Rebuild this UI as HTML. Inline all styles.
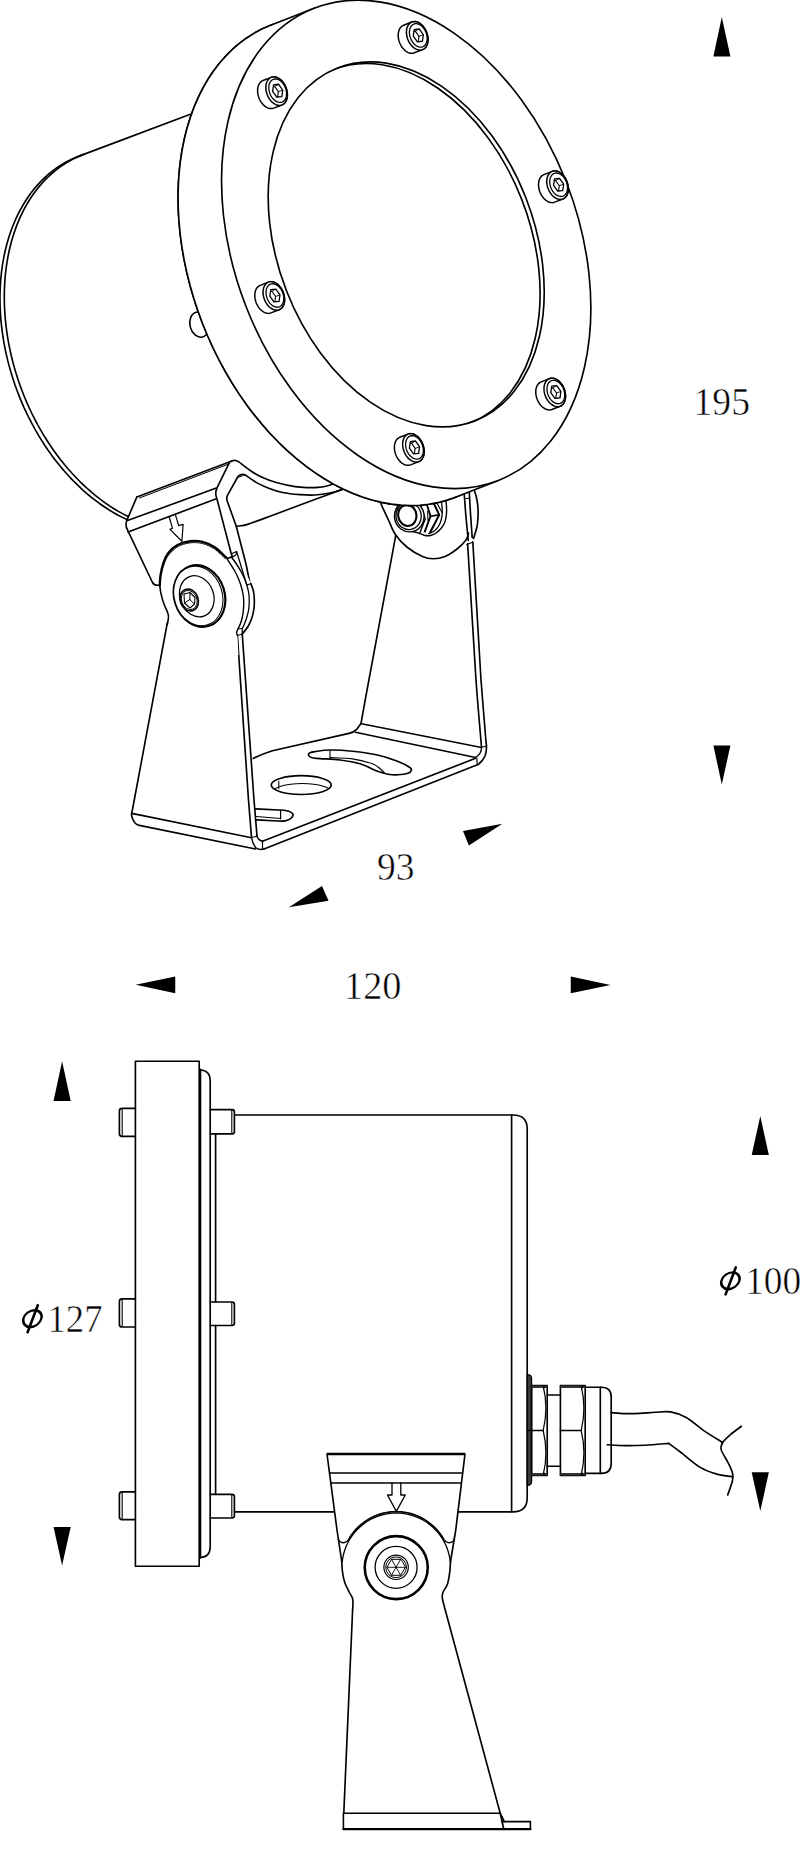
<!DOCTYPE html>
<html><head><meta charset="utf-8"><style>
html,body{margin:0;padding:0;background:#fff;}
svg{display:block;}
text{font-family:"Liberation Serif",serif;fill:#000;}
</style></head><body>
<svg width="800" height="1854" viewBox="0 0 800 1854">
<rect width="800" height="1854" fill="#fff"/>
<g fill="none" stroke="#000" stroke-width="1.65" stroke-linecap="round" stroke-linejoin="round">
<path d="M205.00,108.80 L79.73,155.87 L75.63,157.46 L71.60,159.24 L67.65,161.20 L63.78,163.33 L59.99,165.65 L56.28,168.14 L52.67,170.80 L49.15,173.64 L45.73,176.64 L42.41,179.80 L39.20,183.13 L36.09,186.61 L33.10,190.25 L30.21,194.04 L27.45,197.98 L24.80,202.06 L22.28,206.28 L19.88,210.63 L17.61,215.11 L15.46,219.72 L13.45,224.45 L11.57,229.30 L9.83,234.26 L8.23,239.32 L6.76,244.49 L5.43,249.75 L4.25,255.11 L3.21,260.55 L2.31,266.07 L1.55,271.66 L0.95,277.33 L0.48,283.05 L0.17,288.84 L-0.00,294.68 L-0.02,300.56 L0.10,306.49 L0.37,312.44 L0.79,318.43 L1.36,324.44 L2.07,330.47 L2.92,336.50 L3.92,342.54 L5.06,348.58 L6.35,354.62 L7.77,360.63 L9.34,366.63 L11.04,372.60 L12.88,378.54 L14.85,384.45 L16.95,390.31 L19.19,396.11 L21.55,401.87 L24.03,407.56 L26.64,413.19 L29.37,418.74 L32.22,424.22 L35.18,429.61 L38.26,434.92 L41.44,440.13 L44.73,445.24 L48.12,450.24 L51.61,455.14 L55.20,459.92 L58.87,464.58 L62.64,469.12 L66.49,473.53 L70.42,477.81 L74.42,481.95 L78.50,485.95 L82.65,489.81 L86.86,493.51 L91.13,497.07 L95.46,500.46 L99.83,503.70 L104.26,506.78 L108.73,509.68 L113.23,512.42 L117.77,514.99 L122.34,517.38 L126.94,519.60"/>
<path d="M84.06,154.30 L80.00,155.88 L76.01,157.63 L72.10,159.56 L68.26,161.67 L64.51,163.96 L60.84,166.41 L57.25,169.04 L53.77,171.83 L50.37,174.78 L47.08,177.90 L43.88,181.17 L40.80,184.60 L37.82,188.19 L34.95,191.92 L32.19,195.79 L29.56,199.80 L27.04,203.96 L24.64,208.24 L22.37,212.65 L20.22,217.19 L18.20,221.84 L16.31,226.62 L14.56,231.50 L12.94,236.48 L11.45,241.57 L10.10,246.76 L8.89,252.03 L7.82,257.39 L6.89,262.83 L6.10,268.35 L5.45,273.93 L4.94,279.58 L4.58,285.29 L4.37,291.05 L4.29,296.86 L4.36,302.71 L4.58,308.59 L4.93,314.51 L5.44,320.44 L6.08,326.40 L6.87,332.37 L7.79,338.35 L8.86,344.33 L10.07,350.30 L11.42,356.26 L12.90,362.21 L14.52,368.13 L16.27,374.03 L18.16,379.89 L20.17,385.71 L22.32,391.49 L24.59,397.21 L26.98,402.88 L29.50,408.48 L32.13,414.02 L34.88,419.49 L37.75,424.87 L40.73,430.17 L43.81,435.39 L47.00,440.51 L50.29,445.53 L53.69,450.44 L57.17,455.25 L60.75,459.94 L64.42,464.52 L68.17,468.97 L72.01,473.29 L75.92,477.49 L79.90,481.54 L83.96,485.46 L88.08,489.24 L92.27,492.87 L96.51,496.34 L100.80,499.67 L105.15,502.84 L109.54,505.84 L113.97,508.69 L118.43,511.36 L122.93,513.87 L127.46,516.21"/>
<ellipse cx="199.3" cy="324.6" rx="9.3" ry="12.8" transform="rotate(-14 199.3 324.6)" fill="#fff" stroke-width="1.6"/>
<path d="M473.50,488.00 C474.02,489.67 475.83,494.33 476.60,498.00 C477.37,501.67 477.98,505.50 478.10,510.00 C478.22,514.50 478.07,520.25 477.30,525.00 C476.53,529.75 474.13,536.25 473.50,538.50 L467,545 L462,490Z" fill="#fff" stroke="none"/>
<path d="M378.00,495.00 C378.58,496.67 379.83,501.00 381.50,505.00 C383.17,509.00 385.67,514.04 388.00,519.00 C390.33,523.96 392.25,530.00 395.50,534.75 C398.75,539.50 403.00,543.88 407.50,547.50 C412.00,551.12 418.25,554.62 422.50,556.50 C426.75,558.38 429.25,558.75 433.00,558.75 C436.75,558.75 441.00,558.12 445.00,556.50 C449.00,554.88 453.50,551.75 457.00,549.00 C460.50,546.25 464.08,542.67 466.00,540.00 C467.92,537.33 468.08,534.17 468.50,533.00 L463.5,480 L378,480Z" fill="#fff" stroke="none"/>
<path d="M378.00,495.00 C378.58,496.67 379.83,501.00 381.50,505.00 C383.17,509.00 385.67,514.04 388.00,519.00 C390.33,523.96 392.25,530.00 395.50,534.75 C398.75,539.50 403.00,543.88 407.50,547.50 C412.00,551.12 418.25,554.62 422.50,556.50 C426.75,558.38 429.25,558.75 433.00,558.75 C436.75,558.75 441.00,558.12 445.00,556.50 C449.00,554.88 453.50,551.75 457.00,549.00 C460.50,546.25 464.08,542.67 466.00,540.00 C467.92,537.33 468.08,534.17 468.50,533.00" />
<path d="M473.50,488.00 C474.02,489.67 475.83,494.33 476.60,498.00 C477.37,501.67 477.98,505.50 478.10,510.00 C478.22,514.50 478.07,520.25 477.30,525.00 C476.53,529.75 474.13,536.25 473.50,538.50" />
<path d="M463.75,488.00 L465.80,515.00 L468.25,540.50" />
<path d="M469.00,488.00 L470.60,515.00 L472.20,537.50" />
<path d="M465.25,498.75 L469.20,498.00" stroke-width="1.1"/>
<path d="M466.75,544.50 L472.80,542.20" stroke-width="1.1"/>
<path d="M467.60,543.80 L476.00,680.00 L477.50,700.00 L481.50,747.30" />
<path d="M472.8,541.8 L481,680 L482.6,700 L486,742 Q487.4,749 485,756 Q482.5,761.5 478,764.5" />
<path d="M395.80,535.20 L365.20,700.00 L361.00,723.50" />
<path d="M445.80,498.00 C445.93,499.83 446.53,505.97 446.60,509.00 C446.67,512.03 446.55,513.87 446.20,516.20 C445.85,518.53 445.37,520.95 444.50,523.00 C443.63,525.05 442.42,526.83 441.00,528.50 C439.58,530.17 437.75,531.83 436.00,533.00 C434.25,534.17 432.50,535.13 430.50,535.50 C428.50,535.87 426.08,535.65 424.00,535.20 C421.92,534.75 420.17,533.47 418.00,532.80 C415.83,532.13 412.17,531.47 411.00,531.20" stroke-width="1.4"/>
<path d="M441.00,499.00 C441.20,500.67 442.05,506.13 442.20,509.00 C442.35,511.87 442.20,513.95 441.90,516.20 C441.60,518.45 441.13,520.60 440.40,522.50 C439.67,524.40 438.65,526.10 437.50,527.60 C436.35,529.10 434.97,530.48 433.50,531.50 C432.03,532.52 429.50,533.33 428.70,533.70" stroke-width="1.3"/>
<path d="M432.7,501 L439.2,514.9 L430.5,531.8" stroke-width="2.0"/>
<path d="M426.1,502 L430.5,516.2 L424.8,531.6" stroke-width="1.9"/>
<path d="M430.5,516.2 L439.2,514.9" stroke-width="1.6"/>
<path d="M436.4,502 L442,512.5 M435.5,522.5 L429.5,533" stroke-width="1.1"/>
<path d="M420,503 L425.2,518.9 L420,532.4" stroke-width="1.4"/>
<path d="M427.6,511.5 L427.9,520.5" stroke-width="1.0"/>
<ellipse cx="409.3" cy="516.3" rx="14.8" ry="15.6" transform="rotate(-10 409.3 516.3)" fill="#fff" stroke-width="1.4"/>
<ellipse cx="408.6" cy="516" rx="12.6" ry="13.6" transform="rotate(-10 408.6 516)" stroke-width="1.3"/>
<ellipse cx="407.3" cy="515.4" rx="9.1" ry="10.6" transform="rotate(-10 407.3 515.4)" stroke-width="2.1"/>
<path d="M236.30,526.30 C237.08,526.22 239.13,526.12 241.00,525.80 C242.87,525.48 242.67,525.99 247.50,524.40 C252.33,522.81 261.25,519.48 270.00,516.25 C278.75,513.02 287.83,509.51 300.00,505.00 C312.17,500.49 335.83,491.83 343.00,489.20" />
<path d="M238.75,461.90 C240.83,463.46 247.08,468.55 251.25,471.25 C255.42,473.95 259.58,476.23 263.75,478.10 C267.92,479.98 271.04,481.08 276.25,482.50 C281.46,483.92 289.71,485.75 295.00,486.60 C300.29,487.45 304.17,487.47 308.00,487.60 C311.83,487.73 315.00,487.63 318.00,487.40 C321.00,487.17 323.33,486.80 326.00,486.20 C328.67,485.60 332.67,484.20 334.00,483.80" />
<path d="M246.25,475.60 C248.12,476.85 253.54,480.91 257.50,483.10 C261.46,485.29 265.83,487.18 270.00,488.75 C274.17,490.32 277.50,491.52 282.50,492.50 C287.50,493.48 294.58,494.18 300.00,494.60 C305.42,495.02 310.00,495.27 315.00,495.00 C320.00,494.73 325.33,493.97 330.00,493.00 C334.67,492.03 340.83,489.83 343.00,489.20" />
<path d="M136.9,496.9 L231.25,461.25 Q235,459.4 238.75,461.9 L246.25,475.6 L226.9,498.75 L246.25,565 L250,584 L160,586 L152.5,582.5 L127.5,530 Q124.6,524 127.5,518.75Z" fill="#fff" stroke="none"/>
<path d="M136.90,496.90 L231.25,461.25" />
<path d="M139.50,498.00 L229.00,463.90" stroke-width="1.0"/>
<path d="M231.25,461.25 Q235,459.2 238.75,461.9" />
<path d="M136.9,496.9 L127.6,518.6 Q124.4,524.5 127.6,530.2 L152.5,582.5 Q154.5,586 158.9,585" />
<path d="M127.50,520.60 L216.30,488.10" />
<path d="M128.10,531.90 L215.70,499.00" />
<path d="M229.6,462.2 L216.9,488.1 Q214.6,493.5 216.9,498.75 L231.25,553.75 L232.6,557" />
<path d="M246.25,475.6 Q241.9,472.8 238.1,476.25 L227.3,495.6 Q226.2,498.5 227.4,501.5 L236.25,526.25 L246.25,565 L250,584" />
<path d="M237.40,477.80 L245.00,474.60" stroke-width="1.0"/>
<path d="M169.4,517.5 L172.5,528.3 L170,529.4 L181.9,541.25 L183.1,524.4 L178.75,525.6 L175.6,515.4" stroke-width="1.2"/>
<ellipse cx="362.71" cy="261.36" rx="253.40" ry="171.81" transform="rotate(68.7 362.71 261.36)" fill="#fff"/>
<path d="M498.25,480.49 L506.50,476.90 L514.48,472.67 L522.15,467.82 L529.52,462.36 L536.54,456.29 L543.21,449.65 L549.50,442.44 L555.40,434.70 L560.89,426.43 L565.95,417.66 L570.58,408.41 L574.75,398.72 L578.47,388.60 L581.71,378.09 L584.47,367.21 L586.75,356.00 L588.52,344.48 L589.80,332.68 L590.58,320.64 L590.85,308.40 L590.61,295.98 L589.87,283.41 L588.62,270.74 L586.88,258.00 L584.64,245.22 L581.91,232.44 L578.70,219.69 L575.01,207.01 L570.87,194.43 L566.27,181.99 L561.23,169.72 L555.77,157.66 L549.90,145.83 L543.63,134.27 L536.99,123.01 L529.99,112.09 L522.65,101.53 L514.99,91.36 L507.03,81.61 L498.80,72.31 L490.31,63.48 L481.59,55.14 L472.67,47.32 L463.56,40.05 L454.30,33.33 L444.90,27.19 L435.40,21.65 L425.82,16.72 L416.18,12.41 L406.52,8.74 L396.85,5.71 L387.22,3.34 L377.63,1.63 L368.12,0.58 L358.72,0.20 L349.44,0.49 L340.33,1.45 L331.39,3.08 L322.66,5.37 L314.15,8.31 L270.66,25.26 L262.41,28.85 L254.44,33.08 L246.76,37.93 L239.40,43.40 L232.37,49.46 L225.71,56.11 L219.41,63.31 L213.52,71.06 L208.03,79.33 L202.96,88.10 L198.33,97.34 L194.16,107.04 L190.44,117.15 L187.20,127.67 L184.44,138.54 L182.17,149.76 L180.39,161.28 L179.11,173.07 L178.33,185.11 L178.06,197.36 L178.30,209.78 L179.04,222.34 L180.29,235.01 L182.03,247.75 L184.27,260.53 L187.00,273.31 L190.21,286.06 L193.90,298.74 L198.04,311.32 L202.64,323.76 L207.68,336.03 L213.14,348.10 L219.01,359.93 L225.28,371.49 L231.92,382.74 L238.92,393.67 L246.26,404.23 L253.92,414.39 L261.88,424.14 L270.11,433.45 L278.60,442.28 L287.32,450.62 L296.24,458.43 L305.35,465.71 L314.61,472.43 L324.01,478.56 L333.51,484.11 L343.09,489.04 L352.73,493.35 L362.39,497.02 L372.06,500.05 L381.70,502.42 L391.28,504.13 L400.79,505.18 L410.19,505.55 L419.47,505.26 L428.59,504.30 L437.52,502.68 L446.26,500.39 L454.76,497.45Z" fill="#fff" stroke="none"/>
<path d="M270.66,25.26 L262.41,28.85 L254.44,33.08 L246.76,37.93 L239.40,43.40 L232.37,49.46 L225.71,56.11 L219.41,63.31 L213.52,71.06 L208.03,79.33 L202.96,88.10 L198.33,97.34 L194.16,107.04 L190.44,117.15 L187.20,127.67 L184.44,138.54 L182.17,149.76 L180.39,161.28 L179.11,173.07 L178.33,185.11 L178.06,197.36 L178.30,209.78 L179.04,222.34 L180.29,235.01 L182.03,247.75 L184.27,260.53 L187.00,273.31 L190.21,286.06 L193.90,298.74 L198.04,311.32 L202.64,323.76 L207.68,336.03 L213.14,348.10 L219.01,359.93 L225.28,371.49 L231.92,382.74 L238.92,393.67 L246.26,404.23 L253.92,414.39 L261.88,424.14 L270.11,433.45 L278.60,442.28 L287.32,450.62 L296.24,458.43 L305.35,465.71 L314.61,472.43 L324.01,478.56 L333.51,484.11 L343.09,489.04 L352.73,493.35 L362.39,497.02 L372.06,500.05 L381.70,502.42 L391.28,504.13 L400.79,505.18 L410.19,505.55 L419.47,505.26 L428.59,504.30 L437.52,502.68 L446.26,500.39 L454.76,497.45"/>
<path d="M314.15,8.31 L270.66,25.26"/>
<path d="M498.25,480.49 L454.76,497.45"/>
<ellipse cx="406.20" cy="244.40" rx="253.40" ry="171.81" transform="rotate(68.7 406.20 244.40)" fill="#fff"/>
<clipPath id="cin"><ellipse cx="406.20" cy="244.40" rx="189.40" ry="128.41" transform="rotate(68.7 406.20 244.40)" /></clipPath>
<ellipse cx="406.20" cy="244.40" rx="189.40" ry="128.41" transform="rotate(68.7 406.20 244.40)" />
<g clip-path="url(#cin)"><ellipse cx="402.09" cy="246.00" rx="189.40" ry="128.41" transform="rotate(68.7 402.09 246.00)" /></g>
<path d="M560.12,406.24 L560.84,405.91 L561.52,405.50 L562.16,405.00 L562.75,404.43 L563.29,403.79 L563.78,403.08 L564.22,402.30 L564.59,401.46 L564.91,400.56 L565.16,399.62 L565.35,398.63 L565.47,397.60 L565.53,396.54 L565.52,395.46 L565.44,394.36 L565.30,393.24 L565.09,392.12 L564.82,391.00 L564.49,389.89 L564.10,388.80 L563.65,387.73 L563.14,386.69 L562.58,385.68 L561.98,384.72 L561.33,383.80 L560.64,382.94 L559.91,382.13 L559.15,381.39 L558.36,380.72 L557.56,380.12 L556.73,379.59 L555.89,379.15 L555.05,378.78 L554.20,378.51 L553.36,378.31 L552.52,378.21 L551.70,378.19 L550.90,378.26 L550.12,378.41 L549.37,378.66 L541.15,381.86 L540.44,382.19 L539.76,382.60 L539.12,383.09 L538.53,383.66 L537.98,384.31 L537.49,385.02 L537.06,385.80 L536.68,386.64 L536.37,387.53 L536.12,388.48 L535.93,389.47 L535.81,390.49 L535.75,391.55 L535.76,392.64 L535.83,393.74 L535.98,394.86 L536.18,395.98 L536.45,397.09 L536.79,398.20 L537.18,399.30 L537.63,400.37 L538.14,401.41 L538.69,402.41 L539.30,403.38 L539.95,404.29 L540.64,405.16 L541.37,405.96 L542.13,406.70 L542.91,407.38 L543.72,407.98 L544.55,408.50 L545.38,408.95 L546.23,409.31 L547.07,409.59 L547.92,409.78 L548.75,409.89 L549.57,409.91 L550.38,409.84 L551.15,409.68 L551.91,409.44Z" fill="#fff" stroke-width="1.5"/>
<path d="M560.12,406.24 L561.52,405.50 L562.75,404.43 L563.78,403.08 L564.59,401.46 L565.16,399.62 L565.47,397.60 L565.52,395.46 L565.30,393.24 L564.82,391.00 L564.10,388.80 L563.14,386.69 L561.98,384.72 L560.64,382.94 L559.15,381.39 L557.56,380.12 L555.89,379.15 L554.20,378.51 L552.52,378.21 L550.90,378.26 L549.37,378.66 L547.97,379.40 L546.75,380.46 L545.71,381.81 L544.90,383.43 L544.33,385.27 L544.02,387.29 L543.98,389.43 L544.19,391.65 L544.67,393.89 L545.40,396.09 L546.35,398.20 L547.52,400.17 L548.86,401.95 L550.34,403.50 L551.94,404.77 L553.60,405.74 L555.29,406.39 L556.97,406.69 L558.59,406.64 L560.12,406.24Z" fill="#fff" stroke-width="1.5"/>
<path d="M560.27,403.39 L561.43,402.78 L562.44,401.90 L563.29,400.78 L563.96,399.45 L564.43,397.93 L564.68,396.27 L564.72,394.50 L564.54,392.67 L564.15,390.83 L563.55,389.01 L562.76,387.27 L561.80,385.65 L560.70,384.18 L559.47,382.91 L558.16,381.86 L556.79,381.06 L555.39,380.53 L554.01,380.28 L552.67,380.32 L551.41,380.65 L550.26,381.26 L549.25,382.14 L548.40,383.26 L547.73,384.59 L547.26,386.11 L547.00,387.77 L546.96,389.54 L547.14,391.36 L547.54,393.21 L548.14,395.02 L548.92,396.76 L549.88,398.39 L550.99,399.86 L552.21,401.13 L553.53,402.18 L554.90,402.98 L556.29,403.51 L557.68,403.76 L559.01,403.72 L560.27,403.39Z" stroke-width="1.3"/>
<path d="M559.97,397.87 L560.91,391.42 L556.79,385.57 L551.72,386.16 L550.77,392.62 L554.90,398.47Z" stroke-width="1.3"/>
<clipPath id="hx0"><path d="M559.97,397.87 L560.91,391.42 L556.79,385.57 L551.72,386.16 L550.77,392.62 L554.90,398.47Z"/></clipPath>
<g clip-path="url(#hx0)"><path d="M555.69,398.74 L556.53,392.98 L552.85,387.76 L548.33,388.29 L547.49,394.05 L551.16,399.27Z" stroke-width="1.1"/>
<path d="M559.97,397.87 L555.69,398.74" stroke-width="0.9"/>
<path d="M560.91,391.42 L556.53,392.98" stroke-width="0.9"/>
<path d="M556.79,385.57 L552.85,387.76" stroke-width="0.9"/>
<path d="M551.72,386.16 L548.33,388.29" stroke-width="0.9"/>
<path d="M550.77,392.62 L547.49,394.05" stroke-width="0.9"/>
<path d="M554.90,398.47 L551.16,399.27" stroke-width="0.9"/>
</g>
<path d="M562.90,198.96 L563.62,198.63 L564.30,198.22 L564.94,197.73 L565.53,197.16 L566.07,196.51 L566.56,195.80 L567.00,195.02 L567.37,194.18 L567.69,193.29 L567.94,192.34 L568.13,191.35 L568.25,190.33 L568.31,189.27 L568.30,188.18 L568.22,187.08 L568.08,185.96 L567.87,184.84 L567.60,183.73 L567.27,182.62 L566.88,181.52 L566.42,180.45 L565.92,179.41 L565.36,178.41 L564.76,177.44 L564.11,176.53 L563.42,175.66 L562.69,174.86 L561.93,174.12 L561.14,173.44 L560.34,172.84 L559.51,172.32 L558.67,171.87 L557.83,171.51 L556.98,171.23 L556.14,171.04 L555.30,170.93 L554.48,170.91 L553.68,170.98 L552.90,171.14 L552.15,171.38 L543.93,174.59 L543.22,174.91 L542.54,175.33 L541.90,175.82 L541.31,176.39 L540.76,177.03 L540.27,177.74 L539.84,178.52 L539.46,179.36 L539.15,180.26 L538.90,181.20 L538.71,182.19 L538.58,183.22 L538.53,184.28 L538.54,185.36 L538.61,186.46 L538.76,187.58 L538.96,188.70 L539.23,189.82 L539.57,190.93 L539.96,192.02 L540.41,193.09 L540.92,194.13 L541.47,195.14 L542.08,196.10 L542.73,197.02 L543.42,197.88 L544.15,198.69 L544.90,199.43 L545.69,200.10 L546.50,200.70 L547.32,201.23 L548.16,201.67 L549.01,202.04 L549.85,202.32 L550.70,202.51 L551.53,202.61 L552.35,202.63 L553.16,202.56 L553.93,202.41 L554.68,202.16Z" fill="#fff" stroke-width="1.5"/>
<path d="M562.90,198.96 L564.30,198.22 L565.53,197.16 L566.56,195.80 L567.37,194.18 L567.94,192.34 L568.25,190.33 L568.30,188.18 L568.08,185.96 L567.60,183.73 L566.88,181.52 L565.92,179.41 L564.76,177.44 L563.42,175.66 L561.93,174.12 L560.34,172.84 L558.67,171.87 L556.98,171.23 L555.30,170.93 L553.68,170.98 L552.15,171.38 L550.75,172.12 L549.52,173.18 L548.49,174.54 L547.68,176.16 L547.11,178.00 L546.80,180.01 L546.76,182.16 L546.97,184.38 L547.45,186.61 L548.18,188.81 L549.13,190.93 L550.30,192.90 L551.64,194.68 L553.12,196.22 L554.72,197.50 L556.38,198.47 L558.07,199.11 L559.75,199.41 L561.37,199.36 L562.90,198.96Z" fill="#fff" stroke-width="1.5"/>
<path d="M563.05,196.11 L564.20,195.50 L565.22,194.62 L566.07,193.51 L566.74,192.17 L567.21,190.66 L567.46,188.99 L567.50,187.23 L567.32,185.40 L566.93,183.55 L566.33,181.74 L565.54,180.00 L564.58,178.37 L563.48,176.91 L562.25,175.63 L560.94,174.58 L559.57,173.78 L558.17,173.25 L556.79,173.00 L555.45,173.05 L554.19,173.38 L553.04,173.99 L552.03,174.86 L551.17,175.98 L550.51,177.31 L550.04,178.83 L549.78,180.49 L549.74,182.26 L549.92,184.09 L550.32,185.93 L550.92,187.75 L551.70,189.49 L552.66,191.11 L553.77,192.58 L554.99,193.85 L556.31,194.90 L557.68,195.70 L559.07,196.23 L560.46,196.48 L561.79,196.44 L563.05,196.11Z" stroke-width="1.3"/>
<path d="M562.75,190.60 L563.69,184.15 L559.57,178.29 L554.50,178.89 L553.55,185.34 L557.68,191.20Z" stroke-width="1.3"/>
<clipPath id="hx1"><path d="M562.75,190.60 L563.69,184.15 L559.57,178.29 L554.50,178.89 L553.55,185.34 L557.68,191.20Z"/></clipPath>
<g clip-path="url(#hx1)"><path d="M558.47,191.46 L559.31,185.71 L555.63,180.48 L551.11,181.02 L550.26,186.77 L553.94,191.99Z" stroke-width="1.1"/>
<path d="M562.75,190.60 L558.47,191.46" stroke-width="0.9"/>
<path d="M563.69,184.15 L559.31,185.71" stroke-width="0.9"/>
<path d="M559.57,178.29 L555.63,180.48" stroke-width="0.9"/>
<path d="M554.50,178.89 L551.11,181.02" stroke-width="0.9"/>
<path d="M553.55,185.34 L550.26,186.77" stroke-width="0.9"/>
<path d="M557.68,191.20 L553.94,191.99" stroke-width="0.9"/>
</g>
<path d="M422.57,49.61 L423.29,49.28 L423.97,48.87 L424.61,48.38 L425.20,47.81 L425.74,47.16 L426.23,46.45 L426.67,45.67 L427.04,44.83 L427.36,43.94 L427.61,42.99 L427.80,42.00 L427.92,40.98 L427.98,39.92 L427.97,38.83 L427.89,37.73 L427.75,36.61 L427.54,35.49 L427.27,34.38 L426.94,33.27 L426.55,32.17 L426.10,31.10 L425.59,30.06 L425.03,29.06 L424.43,28.09 L423.78,27.18 L423.09,26.31 L422.36,25.51 L421.60,24.77 L420.81,24.09 L420.01,23.49 L419.18,22.97 L418.34,22.52 L417.50,22.16 L416.65,21.88 L415.81,21.69 L414.97,21.58 L414.15,21.56 L413.35,21.63 L412.57,21.79 L411.82,22.03 L403.60,25.23 L402.89,25.56 L402.21,25.97 L401.57,26.47 L400.98,27.04 L400.43,27.68 L399.94,28.39 L399.51,29.17 L399.13,30.01 L398.82,30.91 L398.57,31.85 L398.38,32.84 L398.26,33.87 L398.20,34.93 L398.21,36.01 L398.28,37.11 L398.43,38.23 L398.63,39.35 L398.90,40.47 L399.24,41.58 L399.63,42.67 L400.08,43.74 L400.59,44.78 L401.14,45.79 L401.75,46.75 L402.40,47.67 L403.09,48.53 L403.82,49.34 L404.58,50.08 L405.36,50.75 L406.17,51.35 L407.00,51.88 L407.83,52.32 L408.68,52.69 L409.52,52.96 L410.37,53.16 L411.20,53.26 L412.02,53.28 L412.83,53.21 L413.61,53.06 L414.36,52.81Z" fill="#fff" stroke-width="1.5"/>
<path d="M422.57,49.61 L423.97,48.87 L425.20,47.81 L426.23,46.45 L427.04,44.83 L427.61,42.99 L427.92,40.98 L427.97,38.83 L427.75,36.61 L427.27,34.38 L426.55,32.17 L425.59,30.06 L424.43,28.09 L423.09,26.31 L421.60,24.77 L420.01,23.49 L418.34,22.52 L416.65,21.88 L414.97,21.58 L413.35,21.63 L411.82,22.03 L410.42,22.77 L409.20,23.83 L408.16,25.19 L407.35,26.81 L406.79,28.65 L406.47,30.66 L406.43,32.81 L406.64,35.03 L407.12,37.26 L407.85,39.46 L408.80,41.58 L409.97,43.55 L411.31,45.33 L412.79,46.87 L414.39,48.15 L416.05,49.12 L417.74,49.76 L419.42,50.06 L421.04,50.01 L422.57,49.61Z" fill="#fff" stroke-width="1.5"/>
<path d="M422.72,46.76 L423.88,46.15 L424.89,45.27 L425.74,44.16 L426.41,42.82 L426.88,41.31 L427.13,39.64 L427.17,37.88 L426.99,36.05 L426.60,34.20 L426.00,32.39 L425.21,30.65 L424.25,29.02 L423.15,27.55 L421.92,26.28 L420.61,25.23 L419.24,24.43 L417.84,23.90 L416.46,23.65 L415.12,23.70 L413.86,24.03 L412.71,24.64 L411.70,25.51 L410.85,26.63 L410.18,27.96 L409.71,29.48 L409.45,31.14 L409.41,32.91 L409.59,34.74 L409.99,36.58 L410.59,38.40 L411.37,40.14 L412.33,41.76 L413.44,43.23 L414.66,44.50 L415.98,45.55 L417.35,46.35 L418.74,46.88 L420.13,47.13 L421.46,47.09 L422.72,46.76Z" stroke-width="1.3"/>
<path d="M422.42,41.25 L423.36,34.79 L419.24,28.94 L414.17,29.54 L413.22,35.99 L417.35,41.85Z" stroke-width="1.3"/>
<clipPath id="hx2"><path d="M422.42,41.25 L423.36,34.79 L419.24,28.94 L414.17,29.54 L413.22,35.99 L417.35,41.85Z"/></clipPath>
<g clip-path="url(#hx2)"><path d="M418.14,42.11 L418.98,36.35 L415.30,31.13 L410.78,31.67 L409.94,37.42 L413.61,42.64Z" stroke-width="1.1"/>
<path d="M422.42,41.25 L418.14,42.11" stroke-width="0.9"/>
<path d="M423.36,34.79 L418.98,36.35" stroke-width="0.9"/>
<path d="M419.24,28.94 L415.30,31.13" stroke-width="0.9"/>
<path d="M414.17,29.54 L410.78,31.67" stroke-width="0.9"/>
<path d="M413.22,35.99 L409.94,37.42" stroke-width="0.9"/>
<path d="M417.35,41.85 L413.61,42.64" stroke-width="0.9"/>
</g>
<path d="M281.97,104.93 L282.68,104.61 L283.36,104.19 L284.00,103.70 L284.59,103.13 L285.13,102.49 L285.62,101.78 L286.06,101.00 L286.43,100.16 L286.75,99.26 L287.00,98.32 L287.19,97.33 L287.31,96.30 L287.37,95.24 L287.36,94.16 L287.28,93.05 L287.14,91.94 L286.93,90.82 L286.66,89.70 L286.33,88.59 L285.94,87.50 L285.49,86.43 L284.98,85.39 L284.42,84.38 L283.82,83.42 L283.17,82.50 L282.48,81.64 L281.75,80.83 L280.99,80.09 L280.21,79.42 L279.40,78.82 L278.57,78.29 L277.74,77.85 L276.89,77.48 L276.04,77.20 L275.20,77.01 L274.37,76.90 L273.54,76.89 L272.74,76.96 L271.96,77.11 L271.21,77.36 L262.99,80.56 L262.28,80.89 L261.60,81.30 L260.96,81.79 L260.37,82.36 L259.83,83.01 L259.34,83.72 L258.90,84.50 L258.53,85.34 L258.21,86.23 L257.96,87.18 L257.77,88.17 L257.65,89.19 L257.59,90.25 L257.60,91.34 L257.68,92.44 L257.82,93.56 L258.03,94.67 L258.30,95.79 L258.63,96.90 L259.02,97.99 L259.47,99.07 L259.98,100.11 L260.54,101.11 L261.14,102.08 L261.79,102.99 L262.48,103.86 L263.21,104.66 L263.97,105.40 L264.75,106.08 L265.56,106.68 L266.39,107.20 L267.23,107.65 L268.07,108.01 L268.92,108.29 L269.76,108.48 L270.60,108.59 L271.42,108.61 L272.22,108.54 L273.00,108.38 L273.75,108.14Z" fill="#fff" stroke-width="1.5"/>
<path d="M281.97,104.93 L283.36,104.19 L284.59,103.13 L285.62,101.78 L286.43,100.16 L287.00,98.32 L287.31,96.30 L287.36,94.16 L287.14,91.94 L286.66,89.70 L285.94,87.50 L284.98,85.39 L283.82,83.42 L282.48,81.64 L280.99,80.09 L279.40,78.82 L277.74,77.85 L276.04,77.20 L274.37,76.90 L272.74,76.96 L271.21,77.36 L269.82,78.10 L268.59,79.16 L267.55,80.51 L266.74,82.13 L266.18,83.97 L265.87,85.99 L265.82,88.13 L266.04,90.35 L266.51,92.59 L267.24,94.79 L268.20,96.90 L269.36,98.87 L270.70,100.65 L272.19,102.20 L273.78,103.47 L275.44,104.44 L277.14,105.09 L278.81,105.39 L280.44,105.33 L281.97,104.93Z" fill="#fff" stroke-width="1.5"/>
<path d="M282.12,102.08 L283.27,101.47 L284.28,100.60 L285.13,99.48 L285.80,98.15 L286.27,96.63 L286.52,94.97 L286.56,93.20 L286.38,91.37 L285.99,89.53 L285.39,87.71 L284.60,85.97 L283.64,84.35 L282.54,82.88 L281.31,81.61 L280.00,80.56 L278.63,79.76 L277.24,79.23 L275.85,78.98 L274.51,79.02 L273.25,79.35 L272.10,79.96 L271.09,80.84 L270.24,81.95 L269.57,83.29 L269.10,84.81 L268.85,86.47 L268.81,88.24 L268.99,90.06 L269.38,91.91 L269.98,93.72 L270.77,95.46 L271.73,97.09 L272.83,98.56 L274.06,99.83 L275.37,100.88 L276.74,101.68 L278.13,102.21 L279.52,102.46 L280.86,102.41 L282.12,102.08Z" stroke-width="1.3"/>
<path d="M281.81,96.57 L282.76,90.12 L278.63,84.27 L273.56,84.86 L272.61,91.32 L276.74,97.17Z" stroke-width="1.3"/>
<clipPath id="hx3"><path d="M281.81,96.57 L282.76,90.12 L278.63,84.27 L273.56,84.86 L272.61,91.32 L276.74,97.17Z"/></clipPath>
<g clip-path="url(#hx3)"><path d="M277.53,97.44 L278.37,91.68 L274.69,86.46 L270.17,86.99 L269.33,92.75 L273.01,97.97Z" stroke-width="1.1"/>
<path d="M281.81,96.57 L277.53,97.44" stroke-width="0.9"/>
<path d="M282.76,90.12 L278.37,91.68" stroke-width="0.9"/>
<path d="M278.63,84.27 L274.69,86.46" stroke-width="0.9"/>
<path d="M273.56,84.86 L270.17,86.99" stroke-width="0.9"/>
<path d="M272.61,91.32 L269.33,92.75" stroke-width="0.9"/>
<path d="M276.74,97.17 L273.01,97.97" stroke-width="0.9"/>
</g>
<path d="M279.19,309.71 L279.90,309.38 L280.58,308.97 L281.22,308.48 L281.81,307.91 L282.35,307.27 L282.84,306.55 L283.28,305.77 L283.65,304.93 L283.97,304.04 L284.22,303.09 L284.41,302.11 L284.53,301.08 L284.59,300.02 L284.58,298.93 L284.50,297.83 L284.36,296.72 L284.16,295.60 L283.88,294.48 L283.55,293.37 L283.16,292.28 L282.71,291.21 L282.20,290.16 L281.65,289.16 L281.04,288.19 L280.39,287.28 L279.70,286.41 L278.97,285.61 L278.21,284.87 L277.43,284.19 L276.62,283.59 L275.79,283.07 L274.96,282.62 L274.11,282.26 L273.26,281.98 L272.42,281.79 L271.59,281.68 L270.77,281.66 L269.96,281.73 L269.18,281.89 L268.43,282.13 L260.22,285.34 L259.50,285.67 L258.82,286.08 L258.18,286.57 L257.59,287.14 L257.05,287.78 L256.56,288.49 L256.12,289.27 L255.75,290.11 L255.43,291.01 L255.18,291.95 L254.99,292.94 L254.87,293.97 L254.81,295.03 L254.82,296.11 L254.90,297.22 L255.04,298.33 L255.25,299.45 L255.52,300.57 L255.85,301.68 L256.24,302.77 L256.69,303.84 L257.20,304.88 L257.76,305.89 L258.36,306.85 L259.01,307.77 L259.70,308.63 L260.43,309.44 L261.19,310.18 L261.97,310.85 L262.78,311.45 L263.61,311.98 L264.45,312.42 L265.29,312.79 L266.14,313.07 L266.98,313.26 L267.82,313.37 L268.64,313.38 L269.44,313.32 L270.22,313.16 L270.97,312.91Z" fill="#fff" stroke-width="1.5"/>
<path d="M279.19,309.71 L280.58,308.97 L281.81,307.91 L282.84,306.55 L283.65,304.93 L284.22,303.09 L284.53,301.08 L284.58,298.93 L284.36,296.72 L283.88,294.48 L283.16,292.28 L282.20,290.16 L281.04,288.19 L279.70,286.41 L278.21,284.87 L276.62,283.59 L274.96,282.62 L273.26,281.98 L271.59,281.68 L269.96,281.73 L268.43,282.13 L267.04,282.87 L265.81,283.93 L264.78,285.29 L263.97,286.91 L263.40,288.75 L263.09,290.77 L263.04,292.91 L263.26,295.13 L263.74,297.36 L264.46,299.57 L265.42,301.68 L266.58,303.65 L267.92,305.43 L269.41,306.98 L271.00,308.25 L272.66,309.22 L274.36,309.86 L276.03,310.16 L277.66,310.11 L279.19,309.71Z" fill="#fff" stroke-width="1.5"/>
<path d="M279.34,306.86 L280.49,306.25 L281.50,305.38 L282.35,304.26 L283.02,302.92 L283.49,301.41 L283.75,299.74 L283.78,297.98 L283.60,296.15 L283.21,294.30 L282.61,292.49 L281.82,290.75 L280.87,289.12 L279.76,287.66 L278.54,286.38 L277.22,285.33 L275.85,284.53 L274.46,284.00 L273.07,283.76 L271.73,283.80 L270.47,284.13 L269.32,284.74 L268.31,285.61 L267.46,286.73 L266.79,288.06 L266.32,289.58 L266.07,291.24 L266.03,293.01 L266.21,294.84 L266.60,296.68 L267.20,298.50 L267.99,300.24 L268.95,301.86 L270.05,303.33 L271.28,304.61 L272.59,305.66 L273.96,306.46 L275.36,306.99 L276.74,307.23 L278.08,307.19 L279.34,306.86Z" stroke-width="1.3"/>
<path d="M279.03,301.35 L279.98,294.90 L275.85,289.04 L270.78,289.64 L269.84,296.09 L273.96,301.95Z" stroke-width="1.3"/>
<clipPath id="hx4"><path d="M279.03,301.35 L279.98,294.90 L275.85,289.04 L270.78,289.64 L269.84,296.09 L273.96,301.95Z"/></clipPath>
<g clip-path="url(#hx4)"><path d="M274.75,302.21 L275.59,296.46 L271.91,291.23 L267.39,291.77 L266.55,297.52 L270.23,302.75Z" stroke-width="1.1"/>
<path d="M279.03,301.35 L274.75,302.21" stroke-width="0.9"/>
<path d="M279.98,294.90 L275.59,296.46" stroke-width="0.9"/>
<path d="M275.85,289.04 L271.91,291.23" stroke-width="0.9"/>
<path d="M270.78,289.64 L267.39,291.77" stroke-width="0.9"/>
<path d="M269.84,296.09 L266.55,297.52" stroke-width="0.9"/>
<path d="M273.96,301.95 L270.23,302.75" stroke-width="0.9"/>
</g>
<path d="M418.77,461.66 L419.48,461.33 L420.16,460.92 L420.80,460.43 L421.39,459.86 L421.93,459.22 L422.42,458.50 L422.86,457.72 L423.23,456.89 L423.55,455.99 L423.80,455.05 L423.99,454.06 L424.11,453.03 L424.17,451.97 L424.16,450.88 L424.08,449.78 L423.94,448.67 L423.73,447.55 L423.46,446.43 L423.13,445.32 L422.74,444.23 L422.29,443.16 L421.78,442.11 L421.22,441.11 L420.62,440.14 L419.97,439.23 L419.28,438.36 L418.55,437.56 L417.79,436.82 L417.01,436.15 L416.20,435.54 L415.37,435.02 L414.53,434.57 L413.69,434.21 L412.84,433.93 L412.00,433.74 L411.17,433.63 L410.34,433.61 L409.54,433.68 L408.76,433.84 L408.01,434.08 L399.79,437.29 L399.08,437.62 L398.40,438.03 L397.76,438.52 L397.17,439.09 L396.63,439.73 L396.14,440.44 L395.70,441.22 L395.33,442.06 L395.01,442.96 L394.76,443.90 L394.57,444.89 L394.45,445.92 L394.39,446.98 L394.40,448.06 L394.48,449.17 L394.62,450.28 L394.83,451.40 L395.10,452.52 L395.43,453.63 L395.82,454.72 L396.27,455.79 L396.78,456.83 L397.34,457.84 L397.94,458.80 L398.59,459.72 L399.28,460.58 L400.01,461.39 L400.77,462.13 L401.55,462.80 L402.36,463.40 L403.19,463.93 L404.03,464.37 L404.87,464.74 L405.72,465.02 L406.56,465.21 L407.39,465.32 L408.22,465.34 L409.02,465.27 L409.80,465.11 L410.55,464.87Z" fill="#fff" stroke-width="1.5"/>
<path d="M418.77,461.66 L420.16,460.92 L421.39,459.86 L422.42,458.50 L423.23,456.89 L423.80,455.05 L424.11,453.03 L424.16,450.88 L423.94,448.67 L423.46,446.43 L422.74,444.23 L421.78,442.11 L420.62,440.14 L419.28,438.36 L417.79,436.82 L416.20,435.54 L414.53,434.57 L412.84,433.93 L411.17,433.63 L409.54,433.68 L408.01,434.08 L406.62,434.82 L405.39,435.88 L404.35,437.24 L403.54,438.86 L402.98,440.70 L402.67,442.72 L402.62,444.86 L402.84,447.08 L403.31,449.32 L404.04,451.52 L405.00,453.63 L406.16,455.60 L407.50,457.38 L408.99,458.93 L410.58,460.20 L412.24,461.17 L413.93,461.81 L415.61,462.11 L417.24,462.06 L418.77,461.66Z" fill="#fff" stroke-width="1.5"/>
<path d="M418.92,458.81 L420.07,458.20 L421.08,457.33 L421.93,456.21 L422.60,454.87 L423.07,453.36 L423.32,451.70 L423.36,449.93 L423.18,448.10 L422.79,446.26 L422.19,444.44 L421.40,442.70 L420.44,441.07 L419.34,439.61 L418.11,438.33 L416.80,437.28 L415.43,436.48 L414.03,435.95 L412.65,435.71 L411.31,435.75 L410.05,436.08 L408.90,436.69 L407.89,437.56 L407.04,438.68 L406.37,440.02 L405.90,441.53 L405.65,443.19 L405.61,444.96 L405.79,446.79 L406.18,448.63 L406.78,450.45 L407.57,452.19 L408.52,453.82 L409.63,455.28 L410.85,456.56 L412.17,457.61 L413.54,458.41 L414.93,458.94 L416.32,459.18 L417.66,459.14 L418.92,458.81Z" stroke-width="1.3"/>
<path d="M418.61,453.30 L419.56,446.85 L415.43,440.99 L410.36,441.59 L409.41,448.04 L413.54,453.90Z" stroke-width="1.3"/>
<clipPath id="hx5"><path d="M418.61,453.30 L419.56,446.85 L415.43,440.99 L410.36,441.59 L409.41,448.04 L413.54,453.90Z"/></clipPath>
<g clip-path="url(#hx5)"><path d="M414.33,454.16 L415.17,448.41 L411.49,443.18 L406.97,443.72 L406.13,449.47 L409.81,454.70Z" stroke-width="1.1"/>
<path d="M418.61,453.30 L414.33,454.16" stroke-width="0.9"/>
<path d="M419.56,446.85 L415.17,448.41" stroke-width="0.9"/>
<path d="M415.43,440.99 L411.49,443.18" stroke-width="0.9"/>
<path d="M410.36,441.59 L406.97,443.72" stroke-width="0.9"/>
<path d="M409.41,448.04 L406.13,449.47" stroke-width="0.9"/>
<path d="M413.54,453.90 L409.81,454.70" stroke-width="0.9"/>
</g>
<path d="M252.4,759 L272.5,750.8 L349,733.4 Q354,732 356.5,729.5 L361,723.5 L481.5,747.5 L478,764.5 L262.75,849 L252.5,837.5Z" fill="#fff" stroke="none"/>
<path d="M251.6,759.2 Q262,754 272.5,750.8 L349,733.4 Q354,732.2 356.6,729.4 L361,723.5" />
<path d="M361.50,723.80 L481.50,747.50" />
<path d="M481.50,747.50 L486.00,746.00" stroke-width="1.2"/>
<path d="M481.5,747.5 Q481.5,754 475.5,757.5" stroke-width="1.3"/>
<path d="M476.80,758.00 L477.20,764.50" stroke-width="1.2"/>
<path d="M355.40,732.20 L475.50,757.50" />
<path d="M262.50,841.20 L475.00,758.50" />
<path d="M264.00,849.00 L478.00,764.50" />
<clipPath id="ch"><ellipse cx="301.25" cy="785.1" rx="30" ry="9.4"/></clipPath>
<ellipse cx="301.25" cy="785.1" rx="30" ry="9.4"/>
<g clip-path="url(#ch)"><ellipse cx="302.2" cy="792.9" rx="30" ry="9.4" stroke-width="1.2"/></g>
<path d="M278.80,781.40 L278.80,788.60" stroke-width="1.1"/>
<clipPath id="cs"><path d="M308.50,755.20 C308.17,754.37 308.92,753.40 310.00,752.80 C311.08,752.20 311.67,752.07 315.00,751.60 C318.33,751.13 323.75,750.07 330.00,750.00 C336.25,749.93 344.58,750.37 352.50,751.20 C360.42,752.03 370.00,753.33 377.50,755.00 C385.00,756.67 392.17,759.17 397.50,761.20 C402.83,763.23 407.18,765.70 409.50,767.20 C411.82,768.70 411.65,769.20 411.40,770.20 C411.15,771.20 410.23,772.43 408.00,773.20 C405.77,773.97 401.33,774.63 398.00,774.80 C394.67,774.97 391.42,774.80 388.00,774.20 C384.58,773.60 382.17,772.93 377.50,771.20 C372.83,769.47 366.25,765.67 360.00,763.80 C353.75,761.93 346.67,760.87 340.00,760.00 C333.33,759.13 324.67,758.97 320.00,758.60 C315.33,758.23 313.92,758.37 312.00,757.80 C310.08,757.23 308.83,756.03 308.50,755.20Z"/></clipPath>
<path d="M308.50,755.20 C308.17,754.37 308.92,753.40 310.00,752.80 C311.08,752.20 311.67,752.07 315.00,751.60 C318.33,751.13 323.75,750.07 330.00,750.00 C336.25,749.93 344.58,750.37 352.50,751.20 C360.42,752.03 370.00,753.33 377.50,755.00 C385.00,756.67 392.17,759.17 397.50,761.20 C402.83,763.23 407.18,765.70 409.50,767.20 C411.82,768.70 411.65,769.20 411.40,770.20 C411.15,771.20 410.23,772.43 408.00,773.20 C405.77,773.97 401.33,774.63 398.00,774.80 C394.67,774.97 391.42,774.80 388.00,774.20 C384.58,773.60 382.17,772.93 377.50,771.20 C372.83,769.47 366.25,765.67 360.00,763.80 C353.75,761.93 346.67,760.87 340.00,760.00 C333.33,759.13 324.67,758.97 320.00,758.60 C315.33,758.23 313.92,758.37 312.00,757.80 C310.08,757.23 308.83,756.03 308.50,755.20Z" />
<g clip-path="url(#cs)">
<path d="M330.00,757.60 C333.75,757.80 345.42,757.77 352.50,758.80 C359.58,759.83 367.75,762.02 372.50,763.80 C377.25,765.58 378.75,767.63 381.00,769.50 C383.25,771.37 385.17,774.08 386.00,775.00" stroke-width="1.2"/>
<path d="M330.00,750.00 L330.00,757.60" stroke-width="1.1"/>
</g>
<path d="M168,616 L132.5,810 Q131,814 132.6,818 Q134,823.5 137.8,825 L257.5,848.75 L262.75,849 L258.75,837.5 L243,633.5 L237,600 L170,590Z" fill="#fff" stroke="none"/>
<path d="M255.6,808.9 L284,810.2 Q292.5,811.5 293.2,814.8 Q292.5,818.6 286,820.6 Q282,821.4 278,821 L256.6,819.9" />
<path d="M256.20,816.50 L280.60,818.50" stroke-width="1.2"/>
<path d="M280.60,810.60 L280.60,818.80" stroke-width="1.2"/>
<path d="M167.3,623 L132.4,810 Q130.6,815 132.6,818.5 Q134.2,823.6 138.2,825.1 L255.5,849" />
<path d="M131.80,813.40 L251.50,837.80" />
<path d="M237.40,635.50 L248.50,800.00 L251.50,837.50" />
<path d="M242.25,634.00 L254.00,800.00 L257.00,836.00" />
<path d="M251.5,837.5 Q252.2,842.5 255.5,847.5 Q258.5,850.4 264,849" stroke-width="1.4"/>
<path d="M257,836 Q258,840.2 262.5,841.2" stroke-width="1.4"/>
<path d="M251.50,837.50 L256.40,836.40" stroke-width="1.1"/>
<path d="M262.50,841.20 L262.50,849.00" stroke-width="1.2"/>
<path d="M250.90,583.75 C251.32,584.96 252.83,588.50 253.40,591.00 C253.97,593.50 254.20,595.92 254.30,598.75 C254.40,601.58 254.38,604.88 254.00,608.00 C253.62,611.12 253.00,614.42 252.00,617.50 C251.00,620.58 249.62,623.75 248.00,626.50 C246.38,629.25 243.21,632.75 242.25,634.00 L237,632 L236.6,551.5Z" fill="#fff" stroke="none"/>
<path d="M250.90,583.75 C251.32,584.96 252.83,588.50 253.40,591.00 C253.97,593.50 254.20,595.92 254.30,598.75 C254.40,601.58 254.38,604.88 254.00,608.00 C253.62,611.12 253.00,614.42 252.00,617.50 C251.00,620.58 249.62,623.75 248.00,626.50 C246.38,629.25 243.21,632.75 242.25,634.00" />
<path d="M236.60,551.50 L246.75,584.90" stroke-width="1.3"/>
<path d="M246.75,584.90 L250.90,583.75" stroke-width="1.2"/>
<path d="M231.75,557.50 C232.62,558.67 235.38,562.00 237.00,564.50 C238.62,567.00 240.17,569.92 241.50,572.50 C242.83,575.08 244.00,577.50 245.00,580.00 C246.00,582.50 246.83,585.00 247.50,587.50 C248.17,590.00 248.72,592.50 249.00,595.00 C249.28,597.50 249.27,600.00 249.20,602.50 C249.13,605.00 249.01,607.50 248.60,610.00 C248.19,612.50 247.42,615.25 246.75,617.50 C246.08,619.75 245.35,621.62 244.60,623.50 C243.85,625.38 242.64,627.88 242.25,628.75 L242.25,634" stroke-width="1.3"/>
<path d="M232.10,558.25 L240.75,571.00" stroke-width="1.0"/>
<path d="M159.75,585.50 C159.89,583.75 159.97,578.75 160.60,575.00 C161.22,571.25 162.27,566.60 163.50,563.00 C164.73,559.40 165.67,556.40 168.00,553.40 C170.33,550.40 173.83,547.03 177.50,545.00 C181.17,542.97 185.83,541.72 190.00,541.20 C194.17,540.68 198.33,540.85 202.50,541.90 C206.67,542.95 211.00,544.83 215.00,547.50 C219.00,550.17 223.21,553.98 226.50,557.90 C229.79,561.82 232.67,567.32 234.75,571.00 C236.83,574.68 237.88,577.25 239.00,580.00 C240.12,582.75 240.80,585.00 241.50,587.50 C242.20,590.00 242.82,592.50 243.20,595.00 C243.57,597.50 243.72,600.00 243.75,602.50 C243.78,605.00 243.65,607.50 243.40,610.00 C243.15,612.50 242.77,615.17 242.25,617.50 C241.73,619.83 241.05,622.00 240.30,624.00 C239.55,626.00 238.37,628.08 237.75,629.50 C237.13,630.92 236.66,631.50 236.60,632.50 C236.54,633.50 237.27,635.00 237.40,635.50 L238.5,655 L163,655 L169.4,618 Q165.5,606 163,597.5 Z" fill="#fff" stroke="none"/>
<path d="M159.75,585.50 C159.89,583.75 159.97,578.75 160.60,575.00 C161.22,571.25 162.27,566.60 163.50,563.00 C164.73,559.40 165.67,556.40 168.00,553.40 C170.33,550.40 173.83,547.03 177.50,545.00 C181.17,542.97 185.83,541.72 190.00,541.20 C194.17,540.68 198.33,540.85 202.50,541.90 C206.67,542.95 211.00,544.83 215.00,547.50 C219.00,550.17 224.58,556.17 226.50,557.90" stroke-width="2.4"/>
<path d="M226.50,557.90 C227.88,560.08 232.67,567.32 234.75,571.00 C236.83,574.68 237.88,577.25 239.00,580.00 C240.12,582.75 240.80,585.00 241.50,587.50 C242.20,590.00 242.82,592.50 243.20,595.00 C243.57,597.50 243.72,600.00 243.75,602.50 C243.78,605.00 243.65,607.50 243.40,610.00 C243.15,612.50 242.77,615.17 242.25,617.50 C241.73,619.83 241.05,622.00 240.30,624.00 C239.55,626.00 238.37,628.08 237.75,629.50 C237.13,630.92 236.66,631.50 236.60,632.50 C236.54,633.50 237.27,635.00 237.40,635.50" stroke-width="1.4"/>
<path d="M161.20,573.00 C161.75,571.25 163.20,565.57 164.50,562.50 C165.80,559.43 166.75,557.25 169.00,554.60 C171.25,551.95 174.50,548.55 178.00,546.60 C181.50,544.65 185.92,543.40 190.00,542.90 C194.08,542.40 198.42,542.58 202.50,543.60 C206.58,544.62 210.75,546.52 214.50,549.00 C218.25,551.48 223.25,556.92 225.00,558.50" stroke-width="0.9"/>
<path d="M159.75,585.5 C160.5,594 163,603 167.2,611.3 Q169.2,615.6 168.3,619.2 L167.3,624.5" stroke-width="1.6"/>
<path d="M231.4,553.75 L236.6,551.5 L235.9,554.9 L231.75,557.3" stroke-width="1.2"/>
<path d="M226.5,557.9 Q229.5,558.6 231.4,556.5" stroke-width="1.6"/>
<path d="M237.40,635.50 L242.25,634.00" stroke-width="1.1"/>
<path d="M238.20,629.00 L242.25,628.50" stroke-width="1.0"/>
<ellipse cx="199.5" cy="596" rx="25.2" ry="31.3" transform="rotate(-18 199.5 596)" fill="#fff" stroke-width="2.2"/>
<ellipse cx="198.3" cy="596" rx="24" ry="30.3" transform="rotate(-18 198.3 596)" fill="#fff" stroke-width="1.1"/>
<ellipse cx="196.8" cy="596.3" rx="16.8" ry="21" transform="rotate(-20 196.8 596.3)" stroke-width="1.3"/>
<ellipse cx="189.2" cy="600" rx="9.0" ry="11.2" transform="rotate(-20 189.2 600)" stroke-width="1.6"/>
<ellipse cx="189.3" cy="600" rx="7.7" ry="9.8" transform="rotate(-20 189.3 600)" stroke-width="0.9"/>
<path d="M184.00,594.00 L190.00,592.50 L195.00,597.50 L194.50,604.00 L190.00,608.00 L184.50,603.00Z" stroke-width="1.1"/>
<path d="M189.80,599.60 L190.00,592.50" stroke-width="1.0"/>
<path d="M189.80,599.60 L194.50,604.00" stroke-width="1.0"/>
<path d="M189.80,599.60 L184.50,603.00" stroke-width="1.0"/>
<path d="M234.4,1115 L513,1115 Q527.2,1115 527.2,1129 L527.2,1497.7 Q527.2,1511.8 513,1511.8 L234.4,1511.8" />
<path d="M511.60,1115.00 L511.60,1511.80" />
<path d="M135.4,1061.2 L199.2,1061.2 L199.2,1566.2 L135.4,1566.2Z" />
<path d="M200.40,1069.50 L200.40,1558.00" stroke-width="1.8"/>
<path d="M200.5,1070 Q210.2,1070.5 210.2,1081 L210.2,1546.5 Q210.2,1557 200.5,1557.5" />
<path d="M215.60,1134.00 L215.60,1302.00" />
<path d="M215.60,1325.50 L215.60,1494.20" />
<path d="M135.4,1108.4 L122,1108.4 Q119.4,1108.4 119.4,1111.0 L119.4,1133.7 Q119.4,1136.3 122,1136.3 L135.4,1136.3" />
<path d="M122.20,1109.40 L122.20,1135.30" stroke-width="1.1"/>
<path d="M210.2,1109.6 L232,1109.6 Q234.4,1109.6 234.4,1112.0 L234.4,1131.3999999999999 Q234.4,1133.8 232,1133.8 L210.2,1133.8" />
<path d="M231.80,1110.60 L231.80,1132.80" stroke-width="1.1"/>
<path d="M135.4,1298.8 L122,1298.8 Q119.4,1298.8 119.4,1301.3999999999999 L119.4,1324.4 Q119.4,1327 122,1327 L135.4,1327" />
<path d="M122.20,1299.80 L122.20,1326.00" stroke-width="1.1"/>
<path d="M210.2,1302 L232,1302 Q234.4,1302 234.4,1304.4 L234.4,1323.1 Q234.4,1325.5 232,1325.5 L210.2,1325.5" />
<path d="M231.80,1303.00 L231.80,1324.50" stroke-width="1.1"/>
<path d="M135.4,1491.8 L122,1491.8 Q119.4,1491.8 119.4,1494.3999999999999 L119.4,1517.0 Q119.4,1519.6 122,1519.6 L135.4,1519.6" />
<path d="M122.20,1492.80 L122.20,1518.60" stroke-width="1.1"/>
<path d="M210.2,1494.3 L232,1494.3 Q234.4,1494.3 234.4,1496.7 L234.4,1515.6 Q234.4,1518 232,1518 L210.2,1518" />
<path d="M231.80,1495.30 L231.80,1517.00" stroke-width="1.1"/>
<path d="M527.2,1374.8 L529.5,1374.8 Q531.6,1375.6 531.6,1378 L531.6,1482 Q531.6,1484.4 529.5,1485.2 L527.2,1485.2Z" fill="#3a3a3a" stroke-width="1.2"/>
<path d="M531.6,1385.6 L547.2,1385.6 L547.2,1475.4 L531.6,1475.4Z" />
<path d="M531.6,1386.8 L547.2,1386.8 M531.6,1474.2 L547.2,1474.2" stroke-width="2.6" stroke="#333" stroke-linecap="butt"/>
<path d="M527.50,1430.50 L543.20,1430.50" />
<path d="M543.2,1386 Q548.6,1408 543.2,1430.5 Q548.6,1453 543.2,1475" stroke-width="1.2"/>
<path d="M545,1386 L543.6,1389 M545,1475 L543.6,1472" stroke-width="1"/>
<path d="M547.20,1395.00 L560.40,1395.00" />
<path d="M547.20,1466.20 L560.40,1466.20" />
<path d="M560.4,1385.6 L585.2,1385.6 L585.2,1475.4 L560.4,1475.4Z" />
<path d="M560.4,1386.8 L585.2,1386.8 M560.4,1474.2 L585.2,1474.2" stroke-width="2.6" stroke="#333" stroke-linecap="butt"/>
<path d="M560.40,1430.50 L581.20,1430.50" />
<path d="M581.2,1386 Q586.6,1408 581.2,1430.5 Q586.6,1453 581.2,1475" stroke-width="1.2"/>
<path d="M583,1386 L581.6,1389 M583,1475 L581.6,1472" stroke-width="1"/>
<path d="M585.2,1387.2 L601.5,1387.2 Q611.2,1387.2 611.2,1397 L611.2,1463.6 Q611.2,1473.4 601.5,1473.4 L585.2,1473.4" />
<path d="M600.30,1387.20 L600.30,1473.40" />
<path d="M611.20,1412.60 C613.50,1412.77 620.20,1413.47 625.00,1413.60 C629.80,1413.73 635.00,1413.62 640.00,1413.40 C645.00,1413.18 649.92,1412.55 655.00,1412.30 C660.08,1412.05 665.29,1411.03 670.50,1411.90 C675.71,1412.77 680.71,1414.38 686.25,1417.50 C691.79,1420.62 697.68,1426.43 703.75,1430.60 C709.82,1434.77 719.50,1440.52 722.65,1442.50" />
<path d="M607.20,1444.80 C610.17,1444.93 618.70,1445.53 625.00,1445.60 C631.30,1445.67 637.71,1445.57 645.00,1445.20 C652.29,1444.83 664.79,1443.70 668.75,1443.40" />
<path d="M668.75,1443.40 C670.79,1444.92 675.75,1448.50 681.00,1452.50 C686.25,1456.50 694.12,1463.75 700.25,1467.40 C706.38,1471.05 712.36,1472.86 717.75,1474.40 C723.14,1475.94 730.12,1476.28 732.60,1476.65" />
<path d="M741.40,1426.25 C739.50,1427.71 733.12,1432.29 730.00,1435.00 C726.88,1437.71 724.11,1440.02 722.65,1442.50 C721.19,1444.98 720.32,1446.48 721.25,1449.90 C722.18,1453.32 726.36,1459.07 728.25,1463.00 C730.14,1466.93 731.91,1470.50 732.60,1473.50 C733.29,1476.50 733.22,1477.42 732.40,1481.00 C731.58,1484.58 728.48,1492.67 727.70,1495.00" />
<path d="M352.6,1610 L343.8,1813.2 L500.2,1813.2 L445.25,1610" />
<path d="M343.4,1813.2 L343.4,1829.2 L530.4,1829.2 L530.4,1821.6 L504.3,1821.6 L500.2,1813.2" stroke-width="1.6"/>
<path d="M343.40,1829.20 L530.40,1829.20" stroke-width="2.2"/>
<path d="M500.20,1813.20 L503.80,1829.20" />
<path d="M502.00,1821.60 L504.30,1821.60" />
<path d="M327,1454 L465,1454 L450.5,1561.5 L445.25,1610 L352.6,1610 L341.75,1561.5Z" fill="#fff" stroke="none"/>
<circle cx="396.25" cy="1566.25" r="54.3" fill="#fff" stroke="none"/>
<path d="M327.00,1454.00 L465.00,1454.00" stroke-width="2.6" stroke-linecap="butt"/>
<path d="M327.00,1454.00 L337.00,1530.00 L341.75,1561.50" />
<path d="M465.00,1454.00 L455.75,1530.00 L450.50,1561.50" />
<path d="M341.75,1561.50 C341.88,1563.25 342.00,1568.50 342.50,1572.00 C343.00,1575.50 343.62,1579.12 344.75,1582.50 C345.88,1585.88 348.00,1589.75 349.25,1592.25 C350.50,1594.75 351.62,1595.88 352.25,1597.50 C352.88,1599.12 352.94,1599.92 353.00,1602.00 C353.06,1604.08 352.67,1608.67 352.60,1610.00" />
<path d="M450.50,1561.50 C450.38,1563.25 450.25,1568.25 449.75,1572.00 C449.25,1575.75 448.62,1580.62 447.50,1584.00 C446.38,1587.38 443.88,1590.00 443.00,1592.25 C442.12,1594.50 442.18,1595.71 442.25,1597.50 C442.32,1599.29 442.90,1600.92 443.40,1603.00 C443.90,1605.08 444.94,1608.83 445.25,1610.00" />
<path d="M329.80,1473.00 L462.20,1473.00" />
<path d="M331.30,1483.00 L460.70,1483.00" />
<path d="M392,1483 L392,1495 L387.5,1495 L396.3,1511.4 L405.3,1495 L400.8,1495 L400.8,1483" stroke-width="1.3"/>
<path d="M349.95,1537.32 L351.47,1535.01 L353.11,1532.79 L354.86,1530.65 L356.71,1528.60 L358.67,1526.64 L360.72,1524.79 L362.86,1523.05 L365.09,1521.42 L367.40,1519.90 L369.78,1518.50 L372.23,1517.22 L374.74,1516.07 L377.31,1515.04 L379.92,1514.15 L382.58,1513.39 L385.27,1512.77 L387.99,1512.28 L390.73,1511.93 L393.49,1511.72 L396.25,1511.65 L399.01,1511.72 L401.77,1511.93 L404.51,1512.28 L407.23,1512.77 L409.92,1513.39 L412.58,1514.15 L415.19,1515.04 L417.76,1516.07 L420.27,1517.22 L422.72,1518.50 L425.10,1519.90 L427.41,1521.42 L429.64,1523.05 L431.78,1524.79 L433.83,1526.64 L435.79,1528.60 L437.64,1530.65 L439.39,1532.79 L441.03,1535.01 L442.55,1537.32" />
<path d="M342.25,1561.62 L342.81,1557.68 L343.66,1553.80 L344.79,1549.98 L346.19,1546.26 L347.87,1542.65 L349.80,1539.17 L351.99,1535.85 L354.41,1532.69 L357.06,1529.72 L359.92,1526.95 L362.97,1524.39 L366.20,1522.07 L369.59,1519.99 L373.13,1518.17 L376.79,1516.61 L380.56,1515.32 L384.40,1514.31 L388.32,1513.58 L392.27,1513.15 L396.25,1513.00 L400.23,1513.15 L404.18,1513.58 L408.10,1514.31 L411.94,1515.32 L415.71,1516.61 L419.37,1518.17 L422.91,1519.99 L426.30,1522.07 L429.53,1524.39 L432.58,1526.95 L435.44,1529.72 L438.09,1532.69 L440.51,1535.85 L442.70,1539.17 L444.63,1542.65 L446.31,1546.26 L447.71,1549.98 L448.84,1553.80 L449.69,1557.68 L450.25,1561.62" stroke-width="1.3"/>
<path d="M338.40,1539.00 C338.58,1539.38 338.69,1540.62 339.50,1541.25 C340.31,1541.88 342.00,1542.75 343.25,1542.75 C344.50,1542.75 345.88,1542.14 347.00,1541.25 C348.12,1540.36 349.50,1538.04 350.00,1537.40" stroke-width="1.3"/>
<path d="M454.10,1539.00 C453.92,1539.38 453.81,1540.62 453.00,1541.25 C452.19,1541.88 450.50,1542.75 449.25,1542.75 C448.00,1542.75 446.62,1542.14 445.50,1541.25 C444.38,1540.36 443.00,1538.04 442.50,1537.40" stroke-width="1.3"/>
<circle cx="396.25" cy="1567.6" r="31.5" stroke-width="2.6"/>
<circle cx="396.1" cy="1567.3" r="21" stroke-width="1.3"/>
<circle cx="396.1" cy="1567.3" r="12.2" stroke-width="1.2"/>
<circle cx="396.1" cy="1567.3" r="10.4" stroke-width="1.0"/>
<path d="M405.30,1567.30 L400.70,1575.27 L391.50,1575.27 L386.90,1567.30 L391.50,1559.33 L400.70,1559.33Z" stroke-width="1.0"/>
<path d="M396.10,1567.30 L405.30,1567.30" stroke-width="0.9"/>
<path d="M396.10,1567.30 L400.70,1575.27" stroke-width="0.9"/>
<path d="M396.10,1567.30 L391.50,1575.27" stroke-width="0.9"/>
<path d="M396.10,1567.30 L386.90,1567.30" stroke-width="0.9"/>
<path d="M396.10,1567.30 L391.50,1559.33" stroke-width="0.9"/>
<path d="M396.10,1567.30 L400.70,1559.33" stroke-width="0.9"/>
<path d="M721.80,17.00 L713.40,56.40 L730.40,56.40Z" fill="#000" stroke="none"/>
<path d="M721.80,784.60 L713.40,745.50 L730.40,745.50Z" fill="#000" stroke="none"/>
<path d="M502.40,823.70 L463.00,830.90 L468.90,845.50Z" fill="#000" stroke="none"/>
<path d="M288.85,907.25 L322.00,886.10 L328.50,900.75Z" fill="#000" stroke="none"/>
<path d="M135.60,984.85 L175.25,976.40 L175.25,993.30Z" fill="#000" stroke="none"/>
<path d="M610.50,985.00 L570.75,976.40 L570.75,993.30Z" fill="#000" stroke="none"/>
<path d="M62.10,1061.35 L53.55,1100.90 L70.70,1100.90Z" fill="#000" stroke="none"/>
<path d="M62.10,1565.60 L53.55,1527.10 L70.70,1527.10Z" fill="#000" stroke="none"/>
<path d="M760.30,1116.10 L751.70,1155.10 L768.85,1155.10Z" fill="#000" stroke="none"/>
<path d="M760.30,1511.10 L751.70,1472.30 L768.85,1472.30Z" fill="#000" stroke="none"/>
<text x="693.5" y="415.2" font-size="40" textLength="56.5" lengthAdjust="spacingAndGlyphs" stroke="#fff" stroke-width="0.55" opacity="0.99">195</text>
<text x="377" y="879.8" font-size="40" textLength="37.5" lengthAdjust="spacingAndGlyphs" stroke="#fff" stroke-width="0.55" opacity="0.99">93</text>
<text x="344" y="999.3" font-size="40" textLength="57.5" lengthAdjust="spacingAndGlyphs" stroke="#fff" stroke-width="0.55" opacity="0.99">120</text>
<text x="47.5" y="1332.2" font-size="40" textLength="55" lengthAdjust="spacingAndGlyphs" stroke="#fff" stroke-width="0.55" opacity="0.99">127</text>
<text x="745.2" y="1294.3" font-size="40" textLength="56" lengthAdjust="spacingAndGlyphs" stroke="#fff" stroke-width="0.55" opacity="0.99">100</text>
<ellipse cx="0" cy="0" rx="9.0" ry="8.4" transform="translate(32.4 1318.6) skewX(-14)" stroke-width="2.4"/>
<path d="M37.8,1305.1999999999998 L27.599999999999998,1332.1999999999998" stroke-width="2.6"/>
<ellipse cx="0" cy="0" rx="9.0" ry="8.4" transform="translate(730.4 1280.8) skewX(-14)" stroke-width="2.4"/>
<path d="M735.8,1267.3999999999999 L725.6,1294.3999999999999" stroke-width="2.6"/>
</g>
</svg>
</body></html>
